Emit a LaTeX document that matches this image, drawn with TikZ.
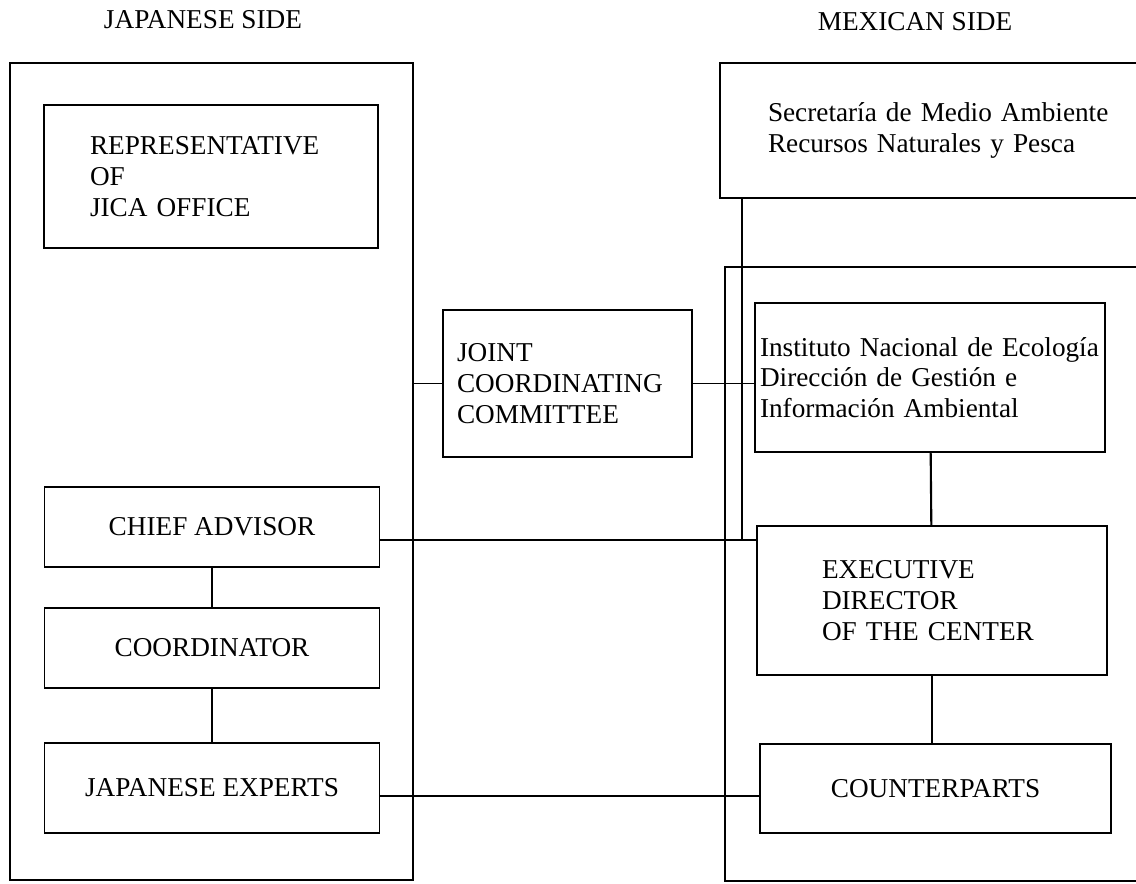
\documentclass[tikz,border=0pt]{standalone}
\usepackage{fontspec}
\setmainfont{Liberation Serif}
\usetikzlibrary{positioning,calc}

\begin{document}
\begin{tikzpicture}[
    box/.style={rectangle, draw=black, line width=1.1pt, font=\fontsize{15.5}{17.5}\selectfont},
    frame/.style={rectangle, draw=black, line width=1.1pt, inner sep=0pt},
    link/.style={draw=black, line width=1.2pt},
    hlink/.style={draw=black, line width=0.8pt},
    heading/.style={font=\fontsize{15.5}{17.5}\selectfont}
]
\useasboundingbox (0,0) rectangle (22.72,17.66);

% Headings
\node[heading] (jptitle) at (4.06, 17.26) {JAPANESE SIDE};
\node[heading] (mxtitle) at (18.30, 17.22) {MEXICAN SIDE};

% Japanese side
\node[frame, minimum width=8.06cm, minimum height=16.34cm] (jpframe) at (4.23, 8.23) {};
\node[box, minimum width=6.68cm, minimum height=2.86cm, text width=4.84cm, inner xsep=0.92cm, align=left] (rep) at (4.22, 14.13) {REPRESENTATIVE\\OF\\JICA OFFICE};
\node[box, minimum width=6.70cm, minimum height=1.60cm] (chief) at (4.24, 7.12) {CHIEF ADVISOR};
\node[box, minimum width=6.70cm, minimum height=1.60cm] (coord) at (4.24, 4.70) {COORDINATOR};
\node[box, minimum width=6.70cm, minimum height=1.80cm] (experts) at (4.24, 1.90) {JAPANESE EXPERTS};

% Joint committee
\node[box, minimum width=4.98cm, minimum height=2.94cm, text width=4.42cm, inner xsep=0.28cm, align=left] (jcc) at (11.35, 9.99) {JOINT\\COORDINATING\\COMMITTEE};

% Mexican side
\node[box, minimum width=9.6cm, minimum height=2.70cm, text width=7.68cm, inner xsep=0.96cm, align=left] (semarnap) at (19.20, 15.05) {Secretaría de Medio Ambiente\\Recursos Naturales y Pesca};
\node[frame, minimum width=9.6cm, minimum height=12.28cm] (mxframe) at (19.30, 6.18) {};
\node[box, minimum width=7.0cm, minimum height=2.98cm, text width=6.8cm, inner xsep=0.1cm, align=left] (ine) at (18.60, 10.11) {Instituto Nacional de Ecología\\Dirección de Gestión e\\Información Ambiental};
\node[box, minimum width=7.0cm, minimum height=2.98cm, text width=4.4cm, inner xsep=1.3cm, align=left] (exec) at (18.64, 5.65) {EXECUTIVE\\DIRECTOR\\OF THE CENTER};
\node[box, minimum width=7.02cm, minimum height=1.78cm] (counter) at (18.71, 1.89) {COUNTERPARTS};

% Links
\coordinate (chiefln) at ([yshift=-0.26cm]chief.east);
\coordinate (expln) at ([yshift=-0.16cm]experts.east);
\coordinate (secdrop) at ([xshift=0.46cm]semarnap.south west);
\draw[link] (chief) -- (coord);
\draw[link] (coord) -- (experts);
\draw[link] (ine) -- (exec);
\draw[link] (exec.south) -- (exec.south |- counter.north);
\draw[link] (secdrop) -- (secdrop |- chiefln);
\draw[hlink] (jpframe.east |- jcc.west) -- (jcc.west);
\draw[hlink] (jcc.east) -- (jcc.east -| ine.west);
\draw[hlink] (chiefln) -- (chiefln -| exec.west);
\draw[hlink] (expln) -- (expln -| counter.west);

\end{tikzpicture}
\end{document}
